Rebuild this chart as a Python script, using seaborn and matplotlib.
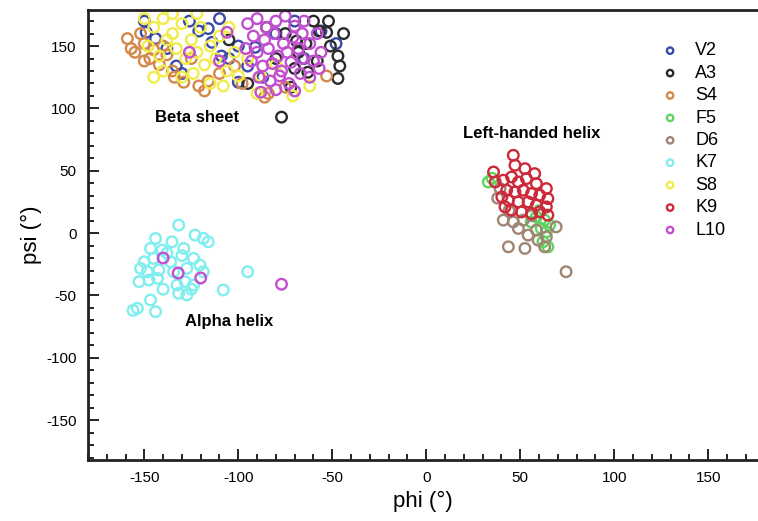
import matplotlib.pyplot as plt
import pandas as pd
import seaborn as sns
from matplotlib.ticker import MultipleLocator

sns.set_style("white")
plt.rcParams["font.family"] = ["Liberation Sans", "DejaVu Sans"]
plt.rcParams["axes.unicode_minus"] = False
plt.rcParams["text.color"] = "black"
plt.rcParams["axes.labelcolor"] = "black"
plt.rcParams["xtick.color"] = "black"
plt.rcParams["ytick.color"] = "black"

# phi / psi values, one pair of lists per residue
v2_phi = [-149, -144, -133, -130, -121, -116, -114, -109, -105, -100, -100, -95, -91, -87, -48, -56,
          -138, -126, -80, -65, -150, -110, -70]
v2_psi = [161, 156, 134, 128, 162, 164, 153, 142, 140, 121, 150, 134, 149, 125, 152, 162,
          148, 170, 160, 140, 170, 172, 170]

a3_phi = [-52, -53, -57, -51, -47, -46, -47, -69, -68, -63, -72, -77, -60, -75, -80, -64, -85, -58,
          -70, -44, -105, -95]
a3_psi = [170, 161, 162, 150, 142, 134, 124, 154, 145, 129, 117, 93, 170, 160, 140, 152, 165, 138,
          132, 160, 155, 120]

s4_phi = [-159, -157, -155, -152, -150, -147, -145, -142, -140, -138, -135, -134, -129, -118, -116,
          -102, -98, -84, -75, -53, -86, -121, -125, -110, -150]
s4_psi = [156, 148, 145, 160, 152, 140, 147, 135, 150, 143, 130, 125, 121, 114, 122,
          134, 120, 112, 117, 126, 109, 118, 140, 128, 138]

f5_phi = [33, 35, 58.6, 63, 65.6, 61.2, 63.9, 62.1, 64.7, 55.8, 60]
f5_psi = [41, 44, 13, 10.4, 6.4, 3.7, 1, -7, -11, 9, 18]

d6_phi = [41, 46.3, 51.6, 49, 54.2, 58.6, 69.1, 63.9, 43.7, 52.5, 63, 59.5, 74.4, 39.3, 56, 44, 38]
d6_psi = [10.4, 9, 10.4, 3.7, -1.6, 2.4, 5, -3, -11, -12.3, -11, -5.6, -31, 35.7, 14, 18, 28]

k7_phi = [-131.7, -123, -118.6, -116, -144, -135.3, -146.7, -140.5, -129, -150, -145, -136, -123.8,
          -120.4, -152, -148.4, -142.3, -134.4, -127.4, -118.6, -152.8, -147.5, -143, -132.6, -128.3,
          -123.8, -131.7, -127.4, -146.7, -153.7, -108, -156, -144, -95, -138, -130, -125, -140]
k7_psi = [6.4, -1.6, -4.3, -7, -4.3, -7, -12.3, -13.6, -12.3, -23, -20.3, -23, -20.3,
          -25.6, -28.3, -31, -29.6, -31, -28.3, -31, -39, -37.6, -36.3, -41.6, -39,
          -41.6, -48.3, -49.6, -53.6, -60.3, -45.6, -62, -63, -31, -16, -18, -45, -45]

s8_phi = [-150, -145, -140, -135, -130, -125, -120, -115, -110, -148, -142, -138, -133, -128, -122,
          -118, -112, -106, -140, -130, -124, -115, -108, -102, -100, -88, -71, -62, -95, -80,
          -135, -122, -145, -105, -90]
s8_psi = [172, 165, 172, 160, 168, 155, 165, 150, 158, 150, 142, 155, 148, 140, 145,
          135, 140, 130, 130, 125, 128, 120, 118, 145, 126, 126, 110, 118, 140, 135,
          176, 176, 125, 165, 112]

k9_phi = [46.3, 47.2, 52.5, 57.7, 35.8, 36.7, 41, 45.4, 49, 53.3, 58.6, 63.9, 42.8, 47.2, 51.6, 56,
          60.4, 64.7, 43.7, 49, 54.2, 58.6, 63.9, 45.4, 50.7, 56, 60.4, 64.7, 40.2, 41.9]
k9_psi = [62.4, 54.4, 51.7, 47.7, 49, 41, 42.4, 45, 41, 43.7, 39.7, 35.7, 34.4, 33, 34.4, 31.7,
          30.4, 27.7, 26.4, 25, 25, 22.4, 21, 18.4, 17, 15.7, 17, 14.4, 29, 21]

l10_phi = [-95, -90, -85, -80, -75, -70, -92, -86, -81, -76, -71, -66, -96, -90, -84, -79, -74, -68,
           -62, -93, -87, -82, -77, -72, -66, -60, -56, -89, -83, -78, -73, -67, -62, -57, -80, -70,
           -88, -126, -106, -110, -65, -58, -140, -132, -120, -77]
l10_psi = [168, 172, 165, 170, 174, 166, 158, 155, 160, 152, 157, 160, 148, 145, 148, 142, 145, 148,
           152, 138, 134, 136, 130, 137, 140, 138, 145, 125, 122, 126, 120, 128, 125, 132, 115, 114,
           113, 145, 161, 138, 170, 160, -20, -32, -36, -41]

residues = ["V2", "A3", "S4", "F5", "D6", "K7", "S8", "K9", "L10"]
colors = ["#3a4aa8", "#2b2b2b", "#d4894a", "#5ed45e", "#9e8574", "#80eeee", "#f0ec4a", "#cc2a3a",
          "#c24fd0"]

rows = []
for name, phi, psi in zip(residues,
                          [v2_phi, a3_phi, s4_phi, f5_phi, d6_phi, k7_phi, s8_phi, k9_phi, l10_phi],
                          [v2_psi, a3_psi, s4_psi, f5_psi, d6_psi, k7_psi, s8_psi, k9_psi, l10_psi]):
    for p, s in zip(phi, psi):
        rows.append({"residue": name, "phi": p, "psi": s})
df = pd.DataFrame(rows)

fig = plt.figure(figsize=(7.58, 5.21), dpi=100)
ax = fig.add_axes([0.116, 0.117, 0.884, 0.864])

for name, col in zip(residues, colors):
    sub = df[df["residue"] == name]
    sns.scatterplot(data=sub, x="phi", y="psi", ax=ax, s=58, facecolors="none",
                    edgecolor=col, linewidth=1.7, label=name)

ax.set_xlim(-180, 176.5)
ax.set_ylim(-182, 179)
ax.xaxis.set_major_locator(MultipleLocator(50))
ax.xaxis.set_minor_locator(MultipleLocator(10))
ax.yaxis.set_major_locator(MultipleLocator(50))
ax.yaxis.set_minor_locator(MultipleLocator(10))
ax.tick_params(which="both", direction="in", bottom=True, left=True, top=False, right=False,
               labelsize=11, width=1.2)
ax.tick_params(which="major", length=8, pad=8)
ax.tick_params(which="minor", length=4)
for side in ["left", "bottom", "top"]:
    ax.spines[side].set_linewidth(2)
    ax.spines[side].set_color("#222222")
ax.spines["right"].set_visible(False)

ax.set_xlabel("phi (°)", fontsize=16)
ax.set_ylabel("psi (°)", fontsize=16, labelpad=3)

ax.text(-122, 93, "Beta sheet", fontsize=12, fontweight="bold", ha="center", va="center")
ax.text(56, 80, "Left-handed helix", fontsize=12, fontweight="bold", ha="center", va="center")
ax.text(-105, -71, "Alpha helix", fontsize=12, fontweight="bold", ha="center", va="center")

ax.legend(loc="upper right", frameon=False, markerscale=0.6, fontsize=13,
          handlelength=1.0, handletextpad=0.9, labelspacing=0.3, borderaxespad=1.4)

plt.savefig("out.png", dpi=100)
plt.close()
